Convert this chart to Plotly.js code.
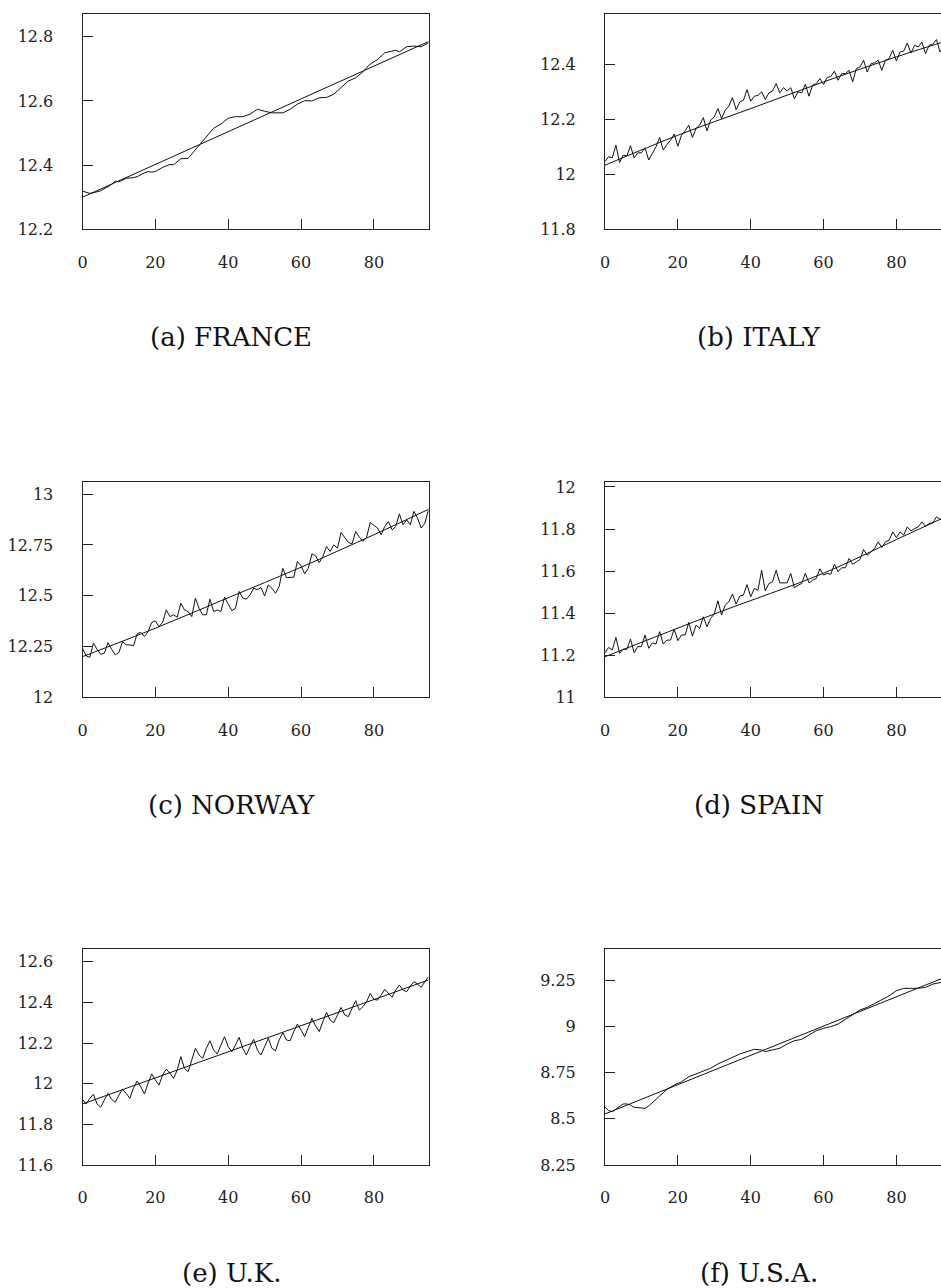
<!DOCTYPE html>
<html>
<head>
<meta charset="utf-8">
<script src="https://cdn.plot.ly/plotly-3.0.1.min.js"></script>
<style>
html, body { margin: 0; padding: 0; overflow: hidden; background: #fff; }
#chart { width: 960px; height: 1288px; }
</style>
</head>
<body>
<div id="chart"></div>
<script>
// ---------- DATA ----------
const quarters = [0,1,2,3,4,5,6,7,8,9,10,11,12,13,14,15,16,17,18,19,20,21,22,23,24,25,26,27,28,29,30,31,32,33,34,35,36,37,38,39,40,41,42,43,44,45,46,47,48,49,50,51,52,53,54,55,56,57,58,59,60,61,62,63,64,65,66,67,68,69,70,71,72,73,74,75,76,77,78,79,80,81,82,83,84,85,86,87,88,89,90,91,92,93,94,95];

const captions = ["(a) FRANCE", "(b) ITALY", "(c) NORWAY", "(d) SPAIN", "(e) U.K.", "(f) U.S.A."];
const xTicks = [0, 20, 40, 60, 80];
const xTickText = ["0", "20", "40", "60", "80"];

const franceX = [0,2,3,5,8,9,10,12,14,15,17,18,19,20,22,24,25,27,29,31,33,35,36,38,40,42,44,46,48,50,52,55,57,59,61,63,65,67,69,71,73,75,77,79,81,83,85,86,87,89,91,93,95];
const franceY = [12.319,12.312,12.314,12.320,12.340,12.350,12.348,12.359,12.361,12.364,12.376,12.380,12.378,12.380,12.393,12.402,12.401,12.420,12.421,12.447,12.473,12.499,12.515,12.528,12.546,12.551,12.551,12.559,12.574,12.568,12.563,12.563,12.574,12.590,12.601,12.600,12.610,12.611,12.621,12.642,12.662,12.672,12.691,12.715,12.729,12.750,12.756,12.758,12.753,12.769,12.771,12.769,12.781];
const franceTrendX = [0, 95];
const franceTrendY = [12.300, 12.785];
const franceTicks = [12.2, 12.4, 12.6, 12.8];
const franceTickText = ["12.2", "12.4", "12.6", "12.8"];

const italyY = [
 12.046,12.064,12.060,12.106,12.043,12.070,12.067,12.104,12.060,12.078,
 12.078,12.096,12.052,12.076,12.100,12.134,12.088,12.108,12.124,12.146,
 12.102,12.142,12.158,12.179,12.134,12.167,12.179,12.206,12.158,12.197,
 12.209,12.239,12.203,12.233,12.248,12.279,12.235,12.263,12.269,12.308,
 12.266,12.284,12.287,12.300,12.272,12.296,12.303,12.330,12.296,12.315,
 12.303,12.315,12.275,12.300,12.296,12.327,12.284,12.324,12.330,12.348,
 12.327,12.352,12.356,12.375,12.342,12.366,12.366,12.378,12.336,12.384,
 12.390,12.415,12.372,12.402,12.405,12.415,12.378,12.415,12.421,12.451,
 12.412,12.445,12.448,12.477,12.441,12.469,12.463,12.481,12.439,12.469,
 12.473,12.490,12.445,12.470,12.478,12.500];
const italyTrendX = [0, 20, 40, 60, 80, 95];
const italyTrendY = [12.033, 12.142, 12.239, 12.336, 12.427, 12.490];
const italyTicks = [11.8, 12.0, 12.2, 12.4];
const italyTickText = ["11.8", "12", "12.2", "12.4"];

const norwayY = [
 12.241,12.204,12.197,12.266,12.236,12.212,12.217,12.269,12.236,12.209,
 12.220,12.274,12.258,12.258,12.253,12.312,12.320,12.299,12.323,12.368,
 12.376,12.348,12.369,12.430,12.397,12.406,12.394,12.463,12.430,12.422,
 12.397,12.488,12.438,12.406,12.406,12.483,12.422,12.430,12.422,12.493,
 12.460,12.427,12.438,12.521,12.488,12.483,12.504,12.537,12.529,12.540,
 12.499,12.553,12.537,12.512,12.545,12.635,12.589,12.589,12.591,12.668,
 12.647,12.608,12.635,12.706,12.696,12.663,12.693,12.742,12.718,12.750,
 12.734,12.811,12.788,12.762,12.755,12.816,12.788,12.767,12.788,12.860,
 12.846,12.833,12.800,12.841,12.865,12.824,12.841,12.903,12.849,12.874,
 12.849,12.915,12.882,12.833,12.857,12.923];
const norwayTrendX = [0, 20, 40, 60, 80, 95];
const norwayTrendY = [12.200, 12.340, 12.490, 12.640, 12.800, 12.925];
const norwayTicks = [12.0, 12.25, 12.5, 12.75, 13.0];
const norwayTickText = ["12", "12.25", "12.5", "12.75", "13"];

const spainY = [
 11.212,11.237,11.225,11.285,11.209,11.229,11.228,11.277,11.212,11.241,
 11.241,11.296,11.233,11.259,11.253,11.312,11.253,11.272,11.272,11.324,
 11.269,11.296,11.296,11.356,11.291,11.343,11.328,11.383,11.335,11.375,
 11.396,11.459,11.391,11.438,11.454,11.491,11.443,11.481,11.486,11.536,
 11.478,11.517,11.509,11.604,11.506,11.541,11.549,11.604,11.544,11.544,
 11.544,11.589,11.521,11.533,11.541,11.589,11.544,11.557,11.565,11.611,
 11.581,11.589,11.585,11.633,11.597,11.616,11.616,11.660,11.633,11.644,
 11.655,11.703,11.676,11.691,11.707,11.739,11.712,11.739,11.747,11.786,
 11.759,11.786,11.771,11.810,11.791,11.802,11.810,11.834,11.813,11.826,
 11.829,11.858,11.845,11.860,11.862,11.878];
const spainTrendX = [0, 30, 60, 80, 95];
const spainTrendY = [11.193, 11.396, 11.590, 11.750, 11.870];
const spainTicks = [11.0, 11.2, 11.4, 11.6, 11.8, 12.0];
const spainTickText = ["11", "11.2", "11.4", "11.6", "11.8", "12"];

const ukY = [
 11.923,11.900,11.928,11.948,11.900,11.884,11.920,11.952,11.923,11.908,
 11.944,11.972,11.952,11.928,11.980,12.013,11.985,11.949,12.002,12.048,
 12.018,11.993,12.043,12.072,12.051,12.026,12.067,12.133,12.075,12.059,
 12.116,12.174,12.141,12.125,12.174,12.211,12.166,12.146,12.190,12.231,
 12.182,12.157,12.190,12.228,12.174,12.141,12.182,12.218,12.166,12.141,
 12.182,12.223,12.174,12.162,12.215,12.251,12.215,12.211,12.256,12.293,
 12.264,12.231,12.277,12.321,12.284,12.256,12.305,12.351,12.313,12.300,
 12.338,12.375,12.338,12.330,12.370,12.408,12.362,12.379,12.403,12.444,
 12.415,12.411,12.436,12.464,12.444,12.425,12.461,12.485,12.461,12.452,
 12.480,12.502,12.490,12.474,12.502,12.526];
const ukTrendX = [0, 95];
const ukTrendY = [11.900, 12.510];
const ukTicks = [11.6, 11.8, 12.0, 12.2, 12.4, 12.6];
const ukTickText = ["11.6", "11.8", "12", "12.2", "12.4", "12.6"];

const usaX = [0,1,2,4,5,6,7,8,9,10,11,12,14,16,17,19,21,23,25,27,29,31,33,35,37,39,41,43,44,46,48,50,52,54,56,58,60,62,64,66,68,70,72,74,76,78,80,82,84,86,88,90,92,95];
const usaY = [8.562,8.544,8.538,8.569,8.580,8.580,8.574,8.562,8.560,8.562,8.556,8.569,8.605,8.641,8.659,8.682,8.700,8.727,8.742,8.755,8.773,8.796,8.814,8.832,8.850,8.863,8.875,8.872,8.863,8.872,8.881,8.904,8.922,8.929,8.953,8.976,8.989,8.998,9.012,9.037,9.061,9.088,9.102,9.124,9.146,9.164,9.192,9.205,9.205,9.205,9.210,9.228,9.236,9.245];
const usaTrendX = [0, 95];
const usaTrendY = [8.526, 9.278];
const usaTicks = [8.25, 8.5, 8.75, 9.0, 9.25];
const usaTickText = ["8.25", "8.5", "8.75", "9", "9.25"];

// ---------- LAYOUT ----------
const W = 960, H = 1288;
const colX = [[82.5, 428.5], [605, 951]];
const rowY = [[14, 229.3], [481.5, 697.3], [949.3, 1165]];
const yRanges = [[12.2, 12.871], [11.8, 12.583], [12.0, 13.062], [11.0, 12.026], [11.6, 12.661], [8.25, 9.416]];
const captionX = [231, 759];
const captionY = [337, 805, 1273];

const panels = [
  {sx: franceX, sy: franceY, tx: franceTrendX, ty: franceTrendY, yt: franceTicks, ytt: franceTickText, sh: 'linear'},
  {sx: quarters, sy: italyY, tx: italyTrendX, ty: italyTrendY, yt: italyTicks, ytt: italyTickText, sh: 'spline'},
  {sx: quarters, sy: norwayY, tx: norwayTrendX, ty: norwayTrendY, yt: norwayTicks, ytt: norwayTickText, sh: 'spline'},
  {sx: quarters, sy: spainY, tx: spainTrendX, ty: spainTrendY, yt: spainTicks, ytt: spainTickText, sh: 'spline'},
  {sx: quarters, sy: ukY, tx: ukTrendX, ty: ukTrendY, yt: ukTicks, ytt: ukTickText, sh: 'linear'},
  {sx: usaX, sy: usaY, tx: usaTrendX, ty: usaTrendY, yt: usaTicks, ytt: usaTickText, sh: 'linear'}
];

const FAMILY = 'DejaVu Serif';
const tickFont = {family: FAMILY, size: 16, color: '#222'};
const data = [];
const layout = {
  width: W, height: H,
  margin: {l: 0, r: 0, t: 0, b: 0},
  paper_bgcolor: '#fff', plot_bgcolor: '#fff',
  showlegend: false,
  font: {family: FAMILY, size: 16, color: '#222'},
  annotations: []
};

panels.forEach((p, i) => {
  const col = i % 2, row = Math.floor(i / 2);
  const n = i + 1;
  const xa = 'x' + (n === 1 ? '' : n), ya = 'y' + (n === 1 ? '' : n);
  data.push({x: p.sx, y: p.sy, xaxis: xa, yaxis: ya, type: 'scatter', mode: 'lines',
             line: {color: '#111', width: 1}, hoverinfo: 'skip'});
  data.push({x: p.tx, y: p.ty, xaxis: xa, yaxis: ya, type: 'scatter', mode: 'lines',
             line: {color: '#111', width: 1, shape: p.sh}, hoverinfo: 'skip'});
  const xd = [colX[col][0] / W, colX[col][1] / W];
  const yd = [1 - rowY[row][1] / H, 1 - rowY[row][0] / H];
  layout['xaxis' + (n === 1 ? '' : n)] = {
    domain: xd, anchor: ya, range: [0, 95],
    tickvals: xTicks, ticktext: xTickText,
    ticks: 'inside', ticklen: 10, tickwidth: 1, tickcolor: '#222',
    showline: true, linecolor: '#222', linewidth: 1, mirror: true,
    showgrid: false, zeroline: false, tickfont: tickFont,
    ticklabelstandoff: 18, fixedrange: true
  };
  layout['yaxis' + (n === 1 ? '' : n)] = {
    domain: yd, anchor: xa, range: yRanges[i],
    tickvals: p.yt, ticktext: p.ytt,
    ticks: 'inside', ticklen: 10, tickwidth: 1, tickcolor: '#222',
    showline: true, linecolor: '#222', linewidth: 1, mirror: true,
    showgrid: false, zeroline: false, tickfont: tickFont,
    ticklabelstandoff: 25, fixedrange: true
  };
  layout.annotations.push({
    text: captions[i], xref: 'paper', yref: 'paper',
    x: captionX[col] / W, y: 1 - captionY[row] / H,
    xanchor: 'center', yanchor: 'middle', showarrow: false,
    font: {family: FAMILY, size: 26, color: '#111'}
  });
});

Plotly.newPlot('chart', data, layout, {staticPlot: true, responsive: false});
</script>
</body>
</html>
